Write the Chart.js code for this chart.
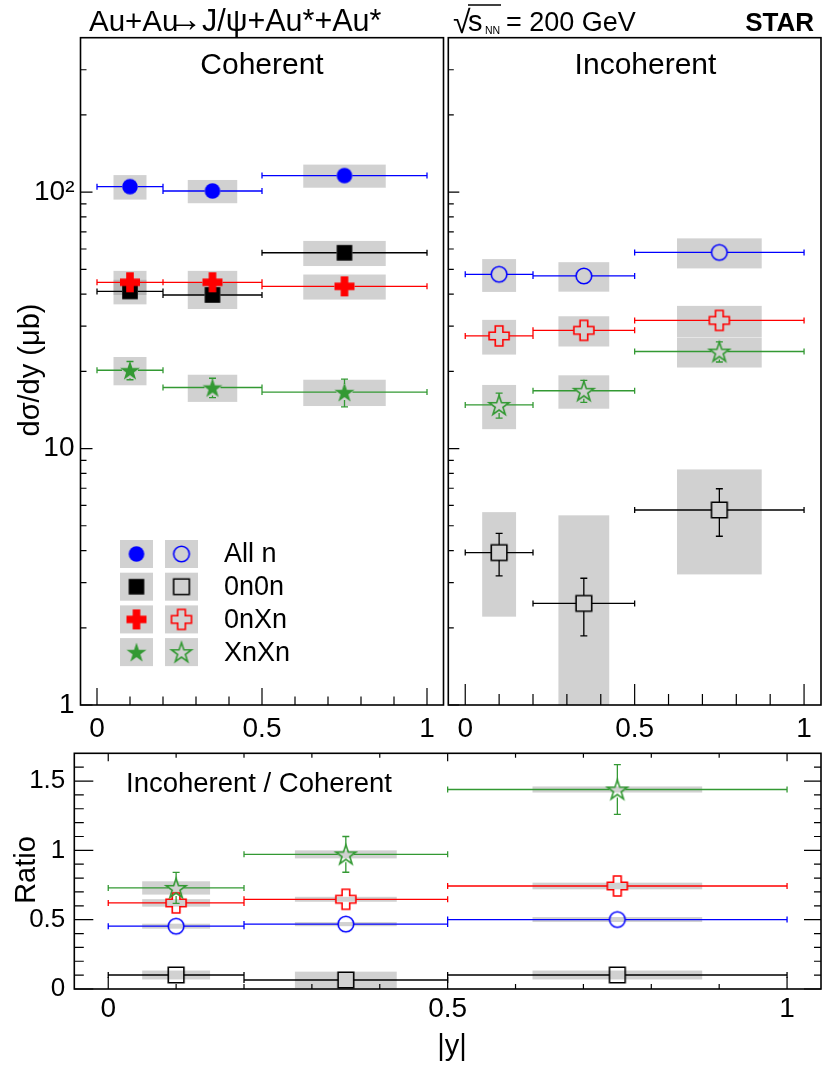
<!DOCTYPE html>
<html>
<head>
<meta charset="utf-8">
<title>STAR J/psi Au+Au</title>
<script src="https://cdn.jsdelivr.net/npm/chart.js@4.4.1/dist/chart.umd.min.js"></script>
<style>
  html, body { margin: 0; padding: 0; background: #fff; }
  #wrap { position: relative; width: 830px; height: 1076px; }
  #wrap canvas { position: absolute; left: 0; top: 0; }
</style>
</head>
<body>
<div id="wrap">
  <canvas id="cohCanvas" width="830" height="1076"></canvas>
  <canvas id="incCanvas" width="830" height="1076"></canvas>
  <canvas id="ratioCanvas" width="830" height="1076"></canvas>
</div>
<script>
// rapidity bins
const binLow = [0, 0.2, 0.5];
const binHigh = [0.2, 0.5, 1.0];
const binCenter = [0.1, 0.35, 0.75];
const sysHalfWidth = [0.05, 0.075, 0.125];

// tick values and labels
const xTickValues = [0, 0.1, 0.2, 0.3, 0.4, 0.5, 0.6, 0.7, 0.8, 0.9, 1];
const xMajorTicks = [0, 0.5, 1];
const xTickLabels = ['0', '0.5', '1'];
const logTickValues = [1, 2, 3, 4, 5, 6, 7, 8, 9, 10, 20, 30, 40, 50, 60, 70, 80, 90, 100, 200, 300];
const logMajorTicks = [1, 10, 100];
const logTickLabels = ['1', '10', '10\u00b2'];
const ratioTickValues = [0, 0.1, 0.2, 0.3, 0.4, 0.5, 0.6, 0.7, 0.8, 0.9, 1, 1.1, 1.2, 1.3, 1.4, 1.5, 1.6];
const ratioMajorTicks = [0, 0.5, 1, 1.5];
const ratioTickLabels = ['0', '0.5', '1', '1.5'];

const legendLabels = ['All n', '0n0n', '0nXn', 'XnXn'];

// coherent dsigma/dy (mub): value, stat error, sys error
const cohAllN = [105, 101, 116];
const cohAllNStat = [1.5, 1.5, 2];
const cohAllNSys = [11.5, 10.5, 12];
const coh0n0n = [41, 39.7, 58];
const coh0n0nStat = [1, 1, 1.5];
const coh0n0nSys = [4.5, 4.7, 6.5];
const coh0nXn = [44.5, 44.5, 42.9];
const coh0nXnStat = [1, 1, 1.2];
const coh0nXnSys = [4.8, 4.8, 4.8];
const cohXnXn = [20.2, 17.3, 16.6];
const cohXnXnStat = [1.65, 1.5, 2.05];
const cohXnXnSys = [2.55, 2.1, 1.95];

// incoherent dsigma/dy (mub)
const incAllN = [47.8, 47.1, 58.2];
const incAllNStat = [1.2, 1.2, 1.5];
const incAllNSys = [7, 6.2, 7.8];
const inc0n0n = [3.93, 2.49, 5.76];
const inc0n0nStat = [0.74, 0.63, 1.21];
const inc0n0nSys = [1.72, 3.0, 2.53];
const inc0nXn = [27.5, 28.9, 31.6];
const inc0nXnStat = [0.9, 0.9, 1.0];
const inc0nXnSys = [4.25, 3.9, 4.4];
const incXnXn = [14.8, 16.8, 23.9];
const incXnXnStat = [1.65, 1.65, 2.15];
const incXnXnSys = [2.9, 2.5, 3.2];

// incoherent / coherent ratio
const ratAllN = [0.453, 0.468, 0.501];
const ratAllNStat = [0.012, 0.012, 0.014];
const ratAllNSys = [0.018, 0.015, 0.018];
const rat0n0n = [0.101, 0.065, 0.101];
const rat0n0nStat = [0.02, 0.02, 0.02];
const rat0n0nSys = [0.032, 0.06, 0.032];
const rat0nXn = [0.621, 0.647, 0.743];
const rat0nXnStat = [0.03, 0.03, 0.035];
const rat0nXnSys = [0.027, 0.018, 0.024];
const ratXnXn = [0.729, 0.971, 1.439];
const ratXnXnStat = [0.112, 0.129, 0.18];
const ratXnXnSys = [0.048, 0.029, 0.022];

const fontFamily = "'Liberation Sans', Arial, Helvetica, sans-serif";
const boxColor = 'rgba(140, 140, 140, 0.4)';
const blue = '#0000ff', black = '#000000', red = '#ff0000', green = '#339933';

Chart.defaults.font.family = fontFamily;
Chart.defaults.color = '#000';

// ROOT-like marker shapes drawn into small canvases, used as point styles
function makeMarker(shape, color, filled) {
    const s = 26;
    const c = document.createElement('canvas');
    c.width = s;
    c.height = s;
    const g = c.getContext('2d');
    g.translate(s / 2, s / 2);
    g.beginPath();
    if (shape === 'circle') {
        g.arc(0, 0, 7.8, 0, Math.PI * 2);
    } else if (shape === 'square') {
        g.rect(-7.8, -7.8, 15.6, 15.6);
    } else if (shape === 'cross') {
        const a = 10, b = 3.8;
        const pts = [[-b, -a], [b, -a], [b, -b], [a, -b], [a, b], [b, b], [b, a], [-b, a], [-b, b], [-a, b], [-a, -b], [-b, -b]];
        pts.forEach((p, i) => i ? g.lineTo(p[0], p[1]) : g.moveTo(p[0], p[1]));
    } else if (shape === 'star') {
        for (let k = 0; k < 10; k++) {
            const r = k % 2 === 0 ? 10.5 : 4.1;
            const ang = -Math.PI / 2 + k * Math.PI / 5;
            const px = r * Math.cos(ang), py = r * Math.sin(ang) + 1;
            k ? g.lineTo(px, py) : g.moveTo(px, py);
        }
    }
    g.closePath();
    if (filled) {
        g.fillStyle = color;
        g.fill();
    } else {
        g.lineWidth = 1.6;
        g.strokeStyle = color;
        g.stroke();
    }
    return c;
}

const markerGap = { circle: 7.8, square: 7.8, cross: 10, star: 8 };

function series(label, values, stat, sys, color, shape, filled, order) {
    return {
        label: label,
        order: order,
        data: binCenter.map((x, i) => ({ x: x, y: values[i] })),
        statErr: stat,
        sysErr: sys,
        errColor: color,
        gap: markerGap[shape],
        pointStyle: makeMarker(shape, color, filled),
        pointRadius: 8,
        pointHoverRadius: 8,
        showLine: false
    };
}

function labelFor(v, majors, labels) {
    const idx = majors.findIndex(m => Math.abs(m - v) < 1e-9);
    return idx >= 0 ? labels[idx] : '';
}

// systematic boxes + stat/bin error bars, drawn before the markers
const errorBarsPlugin = {
    id: 'errorBars',
    beforeDatasetsDraw(chart) {
        const { ctx, chartArea: a } = chart;
        const xs = chart.scales.x, ys = chart.scales.y;
        const yPix = v => ys.getPixelForValue(ys.type === 'logarithmic' ? Math.max(v, ys.min * 0.5) : v);
        ctx.save();
        ctx.beginPath();
        ctx.rect(a.left, a.top, a.right - a.left, a.bottom - a.top);
        ctx.clip();

        chart.data.datasets.forEach(ds => {
            ds.data.forEach((p, i) => {
                const x0 = xs.getPixelForValue(p.x - sysHalfWidth[i]);
                const x1 = xs.getPixelForValue(p.x + sysHalfWidth[i]);
                const y0 = yPix(p.y + ds.sysErr[i]);
                const y1 = yPix(p.y - ds.sysErr[i]);
                ctx.fillStyle = boxColor;
                ctx.fillRect(x0, y0, x1 - x0, y1 - y0);
            });
        });

        chart.data.datasets.forEach(ds => {
            ctx.strokeStyle = ds.errColor;
            ctx.lineWidth = 1.3;
            ctx.beginPath();
            ds.data.forEach((p, i) => {
                const xc = xs.getPixelForValue(p.x);
                const yc = ys.getPixelForValue(p.y);
                const xl = xs.getPixelForValue(binLow[i]);
                const xh = xs.getPixelForValue(binHigh[i]);
                const g = ds.gap;
                ctx.moveTo(xl, yc); ctx.lineTo(xc - g, yc);
                ctx.moveTo(xc + g, yc); ctx.lineTo(xh, yc);
                ctx.moveTo(xl, yc - 3); ctx.lineTo(xl, yc + 3);
                ctx.moveTo(xh, yc - 3); ctx.lineTo(xh, yc + 3);
                const yt = yPix(p.y + ds.statErr[i]);
                const yb = yPix(p.y - ds.statErr[i]);
                if (yt < yc - g) {
                    ctx.moveTo(xc, yc - g); ctx.lineTo(xc, yt);
                    ctx.moveTo(xc - 3.5, yt); ctx.lineTo(xc + 3.5, yt);
                }
                if (yb > yc + g) {
                    ctx.moveTo(xc, yc + g); ctx.lineTo(xc, yb);
                    ctx.moveTo(xc - 3.5, yb); ctx.lineTo(xc + 3.5, yb);
                }
            });
            ctx.stroke();
        });
        ctx.restore();
    }
};

// frame + inward ticks, ROOT style
function framePlugin(cfg) {
    return {
        id: 'frame',
        afterDraw(chart) {
            const { ctx, chartArea: a } = chart;
            const xs = chart.scales.x, ys = chart.scales.y;
            const isMajor = (v, list) => list.some(m => Math.abs(m - v) < 1e-9);
            ctx.save();
            ctx.strokeStyle = '#000';
            ctx.lineWidth = 1.2;
            ctx.beginPath();
            xs.ticks.forEach(t => {
                const px = xs.getPixelForValue(t.value);
                const major = isMajor(t.value, cfg.xMajor);
                if (cfg.bottom) {
                    ctx.moveTo(px, a.bottom);
                    ctx.lineTo(px, a.bottom - (major ? cfg.bottom[0] : cfg.bottom[1]));
                }
                if (cfg.top) {
                    ctx.moveTo(px, a.top);
                    ctx.lineTo(px, a.top + (major ? cfg.top[0] : cfg.top[1]));
                }
            });
            ys.ticks.forEach(t => {
                const py = ys.getPixelForValue(t.value);
                const major = isMajor(t.value, cfg.yMajor);
                if (cfg.left) {
                    ctx.moveTo(a.left, py);
                    ctx.lineTo(a.left + (major ? cfg.left[0] : cfg.left[1]), py);
                }
                if (cfg.right) {
                    ctx.moveTo(a.right, py);
                    ctx.lineTo(a.right - (major ? cfg.right[0] : cfg.right[1]), py);
                }
            });
            ctx.stroke();
            ctx.lineWidth = 1.6;
            ctx.strokeRect(a.left, a.top, a.right - a.left, a.bottom - a.top);
            ctx.restore();
        }
    };
}

function textPlugin(items) {
    return {
        id: 'texts',
        afterDraw(chart) {
            const ctx = chart.ctx;
            items.forEach(it => {
                ctx.save();
                if (it.line) {
                    ctx.strokeStyle = '#000';
                    ctx.lineWidth = 1.4;
                    ctx.beginPath();
                    it.line.forEach((p, i) => i ? ctx.lineTo(p[0], p[1]) : ctx.moveTo(p[0], p[1]));
                    ctx.stroke();
                } else {
                    ctx.font = (it.bold ? 'bold ' : '') + it.size + 'px ' + (it.family || fontFamily);
                    ctx.fillStyle = '#000';
                    ctx.textAlign = it.align || 'left';
                    ctx.textBaseline = it.baseline || 'alphabetic';
                    ctx.translate(it.x, it.y);
                    if (it.rotate) ctx.rotate(it.rotate);
                    ctx.fillText(it.text, 0, 0);
                }
                ctx.restore();
            });
        }
    };
}

const legendFilled = [makeMarker('circle', blue, true), makeMarker('square', black, true),
                      makeMarker('cross', red, true), makeMarker('star', green, true)];
const legendOpen = [makeMarker('circle', blue, false), makeMarker('square', black, false),
                    makeMarker('cross', red, false), makeMarker('star', green, false)];

const legendPlugin = {
    id: 'pairLegend',
    afterDraw(chart) {
        const ctx = chart.ctx;
        ctx.save();
        legendLabels.forEach((label, i) => {
            const cy = 554 + i * 32.7;
            ctx.fillStyle = boxColor;
            ctx.fillRect(120, cy - 14, 33, 28);
            ctx.fillRect(165, cy - 14, 33, 28);
            ctx.drawImage(legendFilled[i], 136.5 - 13, cy - 13);
            ctx.drawImage(legendOpen[i], 181.5 - 13, cy - 13);
            ctx.font = '27px ' + fontFamily;
            ctx.fillStyle = '#000';
            ctx.textAlign = 'left';
            ctx.textBaseline = 'middle';
            ctx.fillText(label, 224, cy + 1);
        });
        ctx.restore();
    }
};

function xAxis(fontSize, pad, height) {
    return {
        type: 'linear', position: 'bottom', min: -0.05, max: 1.05,
        grid: { display: false, drawTicks: false },
        border: { display: false },
        afterBuildTicks: axis => { axis.ticks = xTickValues.map(v => ({ value: v })); },
        afterFit: axis => { axis.height = height; },
        ticks: {
            autoSkip: false, maxRotation: 0, padding: pad, font: { size: fontSize },
            callback: v => labelFor(v, xMajorTicks, xTickLabels)
        }
    };
}

function logYAxis(showLabels, width) {
    return {
        type: 'logarithmic', position: 'left', min: 1, max: 400,
        grid: { display: false, drawTicks: false },
        border: { display: false },
        afterBuildTicks: axis => { axis.ticks = logTickValues.map(v => ({ value: v })); },
        afterFit: axis => { axis.width = width; },
        ticks: {
            display: showLabels, autoSkip: false, padding: 6, font: { size: 28 },
            callback: v => labelFor(v, logMajorTicks, logTickLabels)
        }
    };
}

const baseOptions = {
    responsive: false,
    maintainAspectRatio: false,
    animation: false,
    events: [],
    plugins: { legend: { display: false }, tooltip: { enabled: false } }
};

// coherent panel
new Chart(document.getElementById('cohCanvas'), {
    type: 'scatter',
    data: {
        datasets: [
            series('All n', cohAllN, cohAllNStat, cohAllNSys, blue, 'circle', true, 3),
            series('0n0n', coh0n0n, coh0n0nStat, coh0n0nSys, black, 'square', true, 2),
            series('0nXn', coh0nXn, coh0nXnStat, coh0nXnSys, red, 'cross', true, 1),
            series('XnXn', cohXnXn, cohXnXnStat, cohXnXnSys, green, 'star', true, 0)
        ]
    },
    options: Object.assign({}, baseOptions, {
        layout: { padding: { left: 10.5, right: 386.5, top: 37.7, bottom: 321 } },
        scales: { x: xAxis(28, 7, 50), y: logYAxis(true, 70) }
    }),
    plugins: [
        errorBarsPlugin,
        framePlugin({ xMajor: xMajorTicks, yMajor: logMajorTicks, left: [12, 6], bottom: [17, 8.5] }),
        legendPlugin,
        textPlugin([
            { text: 'Au+Au', x: 89, y: 31, size: 29.5 },
            { text: '\u2192', x: 185, y: 31, size: 36, align: 'center' },
            { text: 'J/\u03c8+Au*+Au*', x: 202, y: 31, size: 30.5 },
            { text: 'Coherent', x: 262, y: 74, size: 30, align: 'center' },
            { text: 'd\u03c3/dy (\u03bcb)', x: 31, y: 370, size: 29, align: 'center', baseline: 'middle', rotate: -Math.PI / 2 }
        ])
    ]
});

// incoherent panel
new Chart(document.getElementById('incCanvas'), {
    type: 'scatter',
    data: {
        datasets: [
            series('All n', incAllN, incAllNStat, incAllNSys, blue, 'circle', false, 3),
            series('0n0n', inc0n0n, inc0n0nStat, inc0n0nSys, black, 'square', false, 2),
            series('0nXn', inc0nXn, inc0nXnStat, inc0nXnSys, red, 'cross', false, 1),
            series('XnXn', incXnXn, incXnXnStat, incXnXnSys, green, 'star', false, 0)
        ]
    },
    options: Object.assign({}, baseOptions, {
        layout: { padding: { left: 448.3, right: 7.3, top: 37.7, bottom: 321 } },
        scales: { x: xAxis(28, 7, 50), y: logYAxis(false, 0) }
    }),
    plugins: [
        errorBarsPlugin,
        framePlugin({ xMajor: xMajorTicks, yMajor: logMajorTicks, left: [11, 5.5], bottom: [21, 11] }),
        textPlugin([
            { text: '\u221a', x: 453, y: 33, size: 32 },
            { line: [[468, 5], [501, 5]] },
            { text: 's', x: 468, y: 31, size: 29 },
            { text: 'NN', x: 485, y: 34, size: 10.5 },
            { text: '= 200 GeV', x: 506, y: 31, size: 27 },
            { text: 'STAR', x: 814, y: 31, size: 26, bold: true, align: 'right' },
            { text: 'Incoherent', x: 645.5, y: 74, size: 30, align: 'center' }
        ])
    ]
});

// ratio panel
new Chart(document.getElementById('ratioCanvas'), {
    type: 'scatter',
    data: {
        datasets: [
            series('All n', ratAllN, ratAllNStat, ratAllNSys, blue, 'circle', false, 3),
            series('0n0n', rat0n0n, rat0n0nStat, rat0n0nSys, black, 'square', false, 2),
            series('0nXn', rat0nXn, rat0nXnStat, rat0nXnSys, red, 'cross', false, 1),
            series('XnXn', ratXnXn, ratXnXnStat, ratXnXnSys, green, 'star', false, 0)
        ]
    },
    options: Object.assign({}, baseOptions, {
        layout: { padding: { left: 4.3, right: 8, top: 753.3, bottom: 37 } },
        scales: {
            x: xAxis(28, 3, 50),
            y: {
                type: 'linear', position: 'left', min: 0, max: 1.7,
                grid: { display: false, drawTicks: false },
                border: { display: false },
                afterBuildTicks: axis => { axis.ticks = ratioTickValues.map(v => ({ value: v })); },
                afterFit: axis => { axis.width = 70; },
                ticks: {
                    autoSkip: false, padding: 9, font: { size: 26 },
                    callback: v => labelFor(v, ratioMajorTicks, ratioTickLabels)
                }
            }
        }
    }),
    plugins: [
        errorBarsPlugin,
        framePlugin({ xMajor: xMajorTicks, yMajor: ratioMajorTicks, left: [19, 9.5], right: [17, 7], bottom: [12, 5], top: [8, 4.5] }),
        textPlugin([
            { text: 'Incoherent / Coherent', x: 126, y: 792, size: 27.5 },
            { text: 'Ratio', x: 27, y: 870, size: 29, align: 'center', baseline: 'middle', rotate: -Math.PI / 2 },
            { text: '|y|', x: 452, y: 1047, size: 29, align: 'center', baseline: 'middle' }
        ])
    ]
});
</script>
</body>
</html>
